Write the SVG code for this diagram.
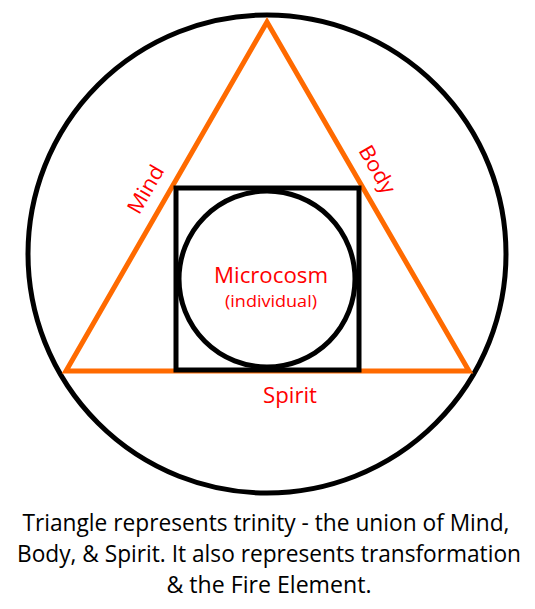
<svg xmlns="http://www.w3.org/2000/svg" width="535" height="609" viewBox="0 0 535 609">
<style>
.blk{fill:none;stroke:#000;stroke-width:5}
.org{fill:none;stroke:#FF6A00;stroke-width:5;stroke-linejoin:miter}
.lbl{font-family:"Open Sans",Lato,sans-serif;fill:#F00;text-anchor:middle}
.cap{font-family:"Open Sans",Lato,sans-serif;fill:#000;text-anchor:middle;font-size:23px}
</style>
<rect width="535" height="609" fill="#fff"/>
<g id="outer-circle"><circle class="blk" cx="267" cy="254" r="239"/></g>
<g id="triangle"><polygon class="org" points="267,22 66,371 469,371"/></g>
<g id="square"><rect class="blk" x="176" y="188" width="183" height="182"/></g>
<g id="microcosm">
<circle class="blk" cx="267" cy="279" r="88"/>
<text class="lbl" x="271" y="283" font-size="21" textLength="114" lengthAdjust="spacingAndGlyphs">Microcosm</text>
<text class="lbl" x="271" y="307" font-size="16" textLength="92" lengthAdjust="spacingAndGlyphs">(individual)</text>
</g>
<g id="labels">
<text class="lbl" font-size="21" transform="translate(152,193) rotate(-60)" textLength="52" lengthAdjust="spacingAndGlyphs">Mind</text>
<text class="lbl" font-size="21" transform="translate(371,173) rotate(60)" textLength="52" lengthAdjust="spacingAndGlyphs">Body</text>
<text class="lbl" font-size="21" x="290" y="403" textLength="54" lengthAdjust="spacingAndGlyphs">Spirit</text>
</g>
<g id="caption">
<text class="cap" x="266" y="531" textLength="487" lengthAdjust="spacingAndGlyphs">Triangle represents trinity - the union of Mind,</text>
<text class="cap" x="269" y="562" textLength="504" lengthAdjust="spacingAndGlyphs">Body, &amp; Spirit. It also represents transformation</text>
<text class="cap" x="269" y="593" textLength="205" lengthAdjust="spacingAndGlyphs">&amp; the Fire Element.</text>
</g>
</svg>
